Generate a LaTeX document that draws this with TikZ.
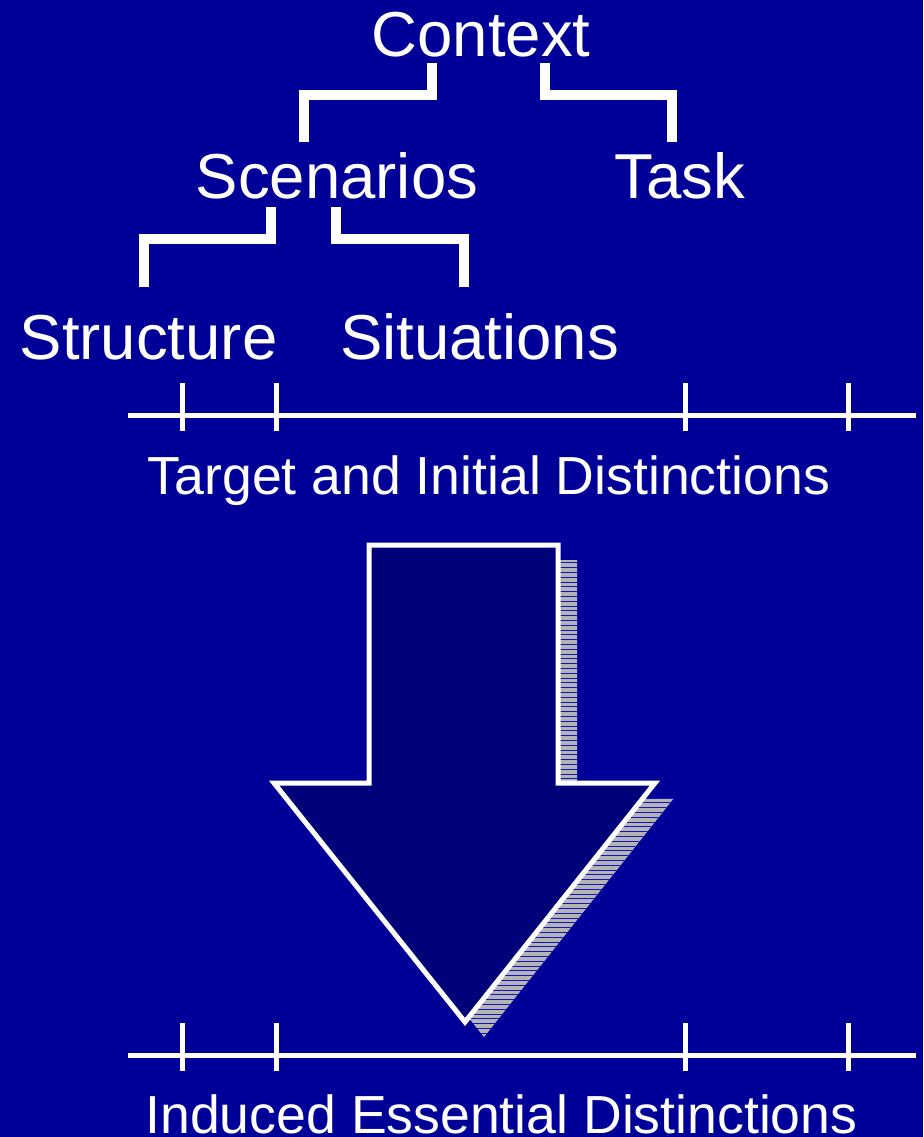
\documentclass[tikz,border=0pt]{standalone}
\usepackage{fontspec}
\setmainfont{Liberation Sans}
\definecolor{bgblue}{RGB}{0,0,153}
\definecolor{arrowblue}{RGB}{0,0,120}
\definecolor{shadowgray}{RGB}{180,180,180}
\definecolor{hatchblue}{RGB}{20,20,190}
\begin{document}
\begin{tikzpicture}[x=1pt,y=-1pt,
  term/.style={text=white,inner sep=0pt,anchor=base,font=\fontsize{63.5}{70}\selectfont},
  capt/.style={text=white,inner sep=0pt,anchor=base,font=\fontsize{53.6}{60}\selectfont},
  bracket/.style={draw=white,line width=10pt,line join=miter},
  axisline/.style={draw=white,line width=5pt},
  tickmark/.style={draw=white,line width=5pt},
  bigarrow/.style={draw=white,fill=arrowblue,line width=5pt,line join=miter}]

% background
\fill[bgblue] (0,0) rectangle (923,1137);
\useasboundingbox (0,0) rectangle (923,1137);

% hierarchy of terms
\node[term] (ctx)  at (481,57)    {Context};
\node[term] (scen) at (337,198)   {Scenarios};
\node[term] (task) at (680,198)   {Task};
\node[term] (str)  at (148.5,359) {Structure};
\node[term] (sit)  at (479.5,359) {Situations};

% bracket ends
\coordinate (ctxL)  at (432,63);
\coordinate (ctxR)  at (545,63);
\coordinate (scenT) at (304,142);
\coordinate (taskT) at (672,142);
\coordinate (scenL) at (271,207);
\coordinate (scenR) at (336,207);
\coordinate (strT)  at (143.5,287);
\coordinate (sitT)  at (464,287);

\draw[bracket] (ctxL) -- ++(0,32) -| (scenT);
\draw[bracket] (ctxR) -- ++(0,32) -| (taskT);
\draw[bracket] (scenL) -- ++(0,32) -| (strT);
\draw[bracket] (scenR) -- ++(0,32) -| (sitT);

% upper scale
\draw[axisline] (128,415) -- (916,415);
\foreach \x in {182,276,685,848} \draw[tickmark] (\x,383) -- (\x,431);
\node[capt] (target) at (489,494) {Target and Initial Distinctions};

% hatched shadow of the arrow
\begin{scope}[shift={(19,15)}]
  \clip (369,545) -- (558,545) -- (558,783) -- (655,783) -- (465,1022)
        -- (274,783) -- (369,783) -- cycle;
  \fill[shadowgray] (260,540) rectangle (680,1030);
  \foreach \y in {547.8,552.6,...,1030} \draw[hatchblue,line width=0.9pt] (260,\y) -- (680,\y);
\end{scope}

% the arrow
\draw[bigarrow] (369,545) -- (558,545) -- (558,783) -- (655,783) -- (465,1022)
      -- (274,783) -- (369,783) -- cycle;

% lower scale
\draw[axisline] (128,1055) -- (916,1055);
\foreach \x in {182,276,685,848} \draw[tickmark] (\x,1023) -- (\x,1071);
\node[capt] (induced) at (501.5,1133) {Induced Essential Distinctions};
\end{tikzpicture}
\end{document}
